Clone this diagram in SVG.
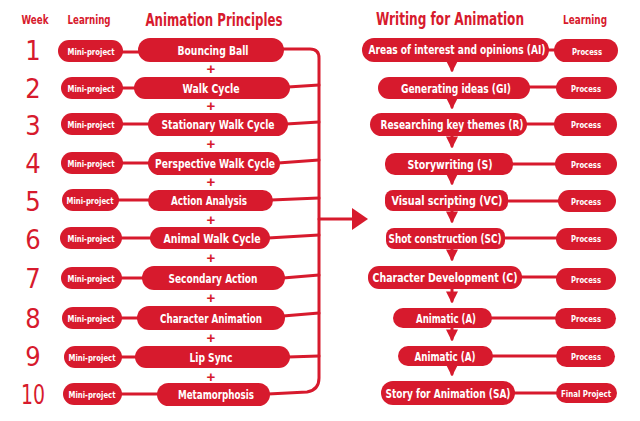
<svg xmlns="http://www.w3.org/2000/svg" width="640" height="421" viewBox="0 0 640 421">
<defs>
<style>
.bg{fill:#ffffff}
.pill{fill:#d71a2d}
.ln{stroke:#d71a2d;stroke-width:3;fill:none;stroke-linecap:round;stroke-linejoin:round}
.t{fill:#ffffff;font-family:"DejaVu Sans Condensed","Liberation Sans",sans-serif;font-weight:bold;text-anchor:middle;dominant-baseline:central}
.big{font-size:13px}
.sm{font-size:9.5px}
.hd{fill:#d71a2d;font-family:"DejaVu Sans Condensed","Liberation Sans",sans-serif;font-weight:bold;text-anchor:middle;dominant-baseline:central}
.wk{fill:#d71a2d;font-family:"DejaVu Sans Condensed","Liberation Sans",sans-serif;font-size:27px;text-anchor:middle;dominant-baseline:central}
.plus{fill:#d71a2d;font-family:"Liberation Sans","DejaVu Sans",sans-serif;font-weight:bold;font-size:15px;text-anchor:middle;dominant-baseline:central}
</style>
<marker id="ah" viewBox="0 0 10 10" refX="8" refY="5" markerWidth="4" markerHeight="4" orient="auto" markerUnits="strokeWidth"><path d="M0,0 L10,5 L0,10 z" fill="#d71a2d"/></marker>
</defs>
<rect class="bg" x="0" y="0" width="640" height="421"/>

<g id="headers">
<text class="hd" x="35" y="20" font-size="11.5" textLength="27" lengthAdjust="spacingAndGlyphs">Week</text>
<text class="hd" x="89" y="20" font-size="11.5" textLength="43" lengthAdjust="spacingAndGlyphs">Learning</text>
<text class="hd" x="214" y="20" font-size="17" textLength="137" lengthAdjust="spacingAndGlyphs">Animation Principles</text>
<text class="hd" x="450" y="19" font-size="17" textLength="148" lengthAdjust="spacingAndGlyphs">Writing for Animation</text>
<text class="hd" x="585" y="20" font-size="11.5" textLength="44" lengthAdjust="spacingAndGlyphs">Learning</text>
</g>

<g id="weeks">
<text class="wk" x="33" y="50">1</text>
<text class="wk" x="33" y="88">2</text>
<text class="wk" x="33" y="125">3</text>
<text class="wk" x="33" y="163">4</text>
<text class="wk" x="33" y="201">5</text>
<text class="wk" x="33" y="239">6</text>
<text class="wk" x="33" y="278">7</text>
<text class="wk" x="33" y="318">8</text>
<text class="wk" x="33" y="356">9</text>
<text class="wk" x="33" y="394" textLength="24" lengthAdjust="spacingAndGlyphs">10</text>
</g>

<g id="connectors">
<path class="ln" d="M122,52 L140,52"/>
<path class="ln" d="M122,88 L136,88"/>
<path class="ln" d="M122,124 L150,124"/>
<path class="ln" d="M122,163 L150,163"/>
<path class="ln" d="M118,200 L150,200"/>
<path class="ln" d="M122,238 L152,238"/>
<path class="ln" d="M122,278 L144,278"/>
<path class="ln" d="M122,318 L139,318"/>
<path class="ln" d="M122,357 L137,357"/>
<path class="ln" d="M122,394 L159,394"/>
<path class="ln" d="M282,49 L310,49 Q319,49 319,58 L319,378 Q319,390 307,392 L268,394"/>
<path class="ln" d="M288,87 L319,85"/>
<path class="ln" d="M286,124 L319,122"/>
<path class="ln" d="M278,163 L319,160"/>
<path class="ln" d="M271,200 L319,198"/>
<path class="ln" d="M268,238 L319,235"/>
<path class="ln" d="M283,278 L319,275"/>
<path class="ln" d="M283,316 L319,313"/>
<path class="ln" d="M288,357 L319,356"/>
<path class="ln" d="M319,219 L354,219"/>
<path d="M352,208 L368,219 L352,230 z" fill="#d71a2d"/>
<path class="ln" d="M546,50 L558,50"/>
<path class="ln" d="M528,87 L558,87"/>
<path class="ln" d="M524,124 L558,124"/>
<path class="ln" d="M510,164 L560,164"/>
<path class="ln" d="M506,201 L560,201"/>
<path class="ln" d="M503,238 L560,238"/>
<path class="ln" d="M520,277 L560,277"/>
<path class="ln" d="M490,318 L558,318"/>
<path class="ln" d="M490,356 L558,356"/>
<path class="ln" d="M513,393 L558,393"/>
<path class="ln" d="M452,62 L452,70" marker-end="url(#ah)"/>
<path class="ln" d="M452,98 L452,107" marker-end="url(#ah)"/>
<path class="ln" d="M452,136 L452,146" marker-end="url(#ah)"/>
<path class="ln" d="M452,175 L452,183" marker-end="url(#ah)"/>
<path class="ln" d="M452,211 L452,221" marker-end="url(#ah)"/>
<path class="ln" d="M452,248 L452,259" marker-end="url(#ah)"/>
<path class="ln" d="M452,289 L452,301" marker-end="url(#ah)"/>
<path class="ln" d="M452,327 L452,339" marker-end="url(#ah)"/>
<path class="ln" d="M452,366 L452,374" marker-end="url(#ah)"/>
</g>

<g id="plus-signs">
<text class="plus" x="211" y="68">+</text>
<text class="plus" x="211" y="105">+</text>
<text class="plus" x="211" y="143">+</text>
<text class="plus" x="211" y="181">+</text>
<text class="plus" x="211" y="219">+</text>
<text class="plus" x="211" y="257">+</text>
<text class="plus" x="211" y="297">+</text>
<text class="plus" x="211" y="337">+</text>
<text class="plus" x="211" y="376">+</text>
</g>

<g id="mp1"><rect class="pill" x="58" y="40" width="65" height="22" rx="11"/><text class="t sm" x="91" y="51" textLength="47" lengthAdjust="spacingAndGlyphs">Mini-project</text></g>
<g id="mp2"><rect class="pill" x="61" y="77" width="62" height="22" rx="11"/><text class="t sm" x="91" y="88" textLength="47" lengthAdjust="spacingAndGlyphs">Mini-project</text></g>
<g id="mp3"><rect class="pill" x="61" y="113" width="62" height="22" rx="11"/><text class="t sm" x="91" y="124" textLength="47" lengthAdjust="spacingAndGlyphs">Mini-project</text></g>
<g id="mp4"><rect class="pill" x="61" y="152" width="62" height="22" rx="11"/><text class="t sm" x="91" y="163" textLength="47" lengthAdjust="spacingAndGlyphs">Mini-project</text></g>
<g id="mp5"><rect class="pill" x="62" y="189" width="57" height="22" rx="11"/><text class="t sm" x="90" y="200" textLength="47" lengthAdjust="spacingAndGlyphs">Mini-project</text></g>
<g id="mp6"><rect class="pill" x="60" y="227" width="62" height="22" rx="11"/><text class="t sm" x="91" y="238" textLength="47" lengthAdjust="spacingAndGlyphs">Mini-project</text></g>
<g id="mp7"><rect class="pill" x="61" y="267" width="61" height="22" rx="11"/><text class="t sm" x="91" y="278" textLength="47" lengthAdjust="spacingAndGlyphs">Mini-project</text></g>
<g id="mp8"><rect class="pill" x="62" y="307" width="60" height="22" rx="11"/><text class="t sm" x="91" y="318" textLength="47" lengthAdjust="spacingAndGlyphs">Mini-project</text></g>
<g id="mp9"><rect class="pill" x="64" y="346" width="58" height="22" rx="11"/><text class="t sm" x="92" y="357" textLength="47" lengthAdjust="spacingAndGlyphs">Mini-project</text></g>
<g id="mp10"><rect class="pill" x="63" y="383" width="59" height="22" rx="11"/><text class="t sm" x="92" y="394" textLength="47" lengthAdjust="spacingAndGlyphs">Mini-project</text></g>

<g id="ap1"><rect class="pill" x="138" y="38" width="146" height="24" rx="12"/><text class="t big" x="213" y="50" textLength="71" lengthAdjust="spacingAndGlyphs">Bouncing Ball</text></g>
<g id="ap2"><rect class="pill" x="134" y="77" width="156" height="22" rx="11"/><text class="t big" x="211" y="88" textLength="57" lengthAdjust="spacingAndGlyphs">Walk Cycle</text></g>
<g id="ap3"><rect class="pill" x="148" y="113" width="140" height="23" rx="11.5"/><text class="t big" x="218" y="124" textLength="113" lengthAdjust="spacingAndGlyphs">Stationary Walk Cycle</text></g>
<g id="ap4"><rect class="pill" x="148" y="152" width="132" height="23" rx="11.5"/><text class="t big" x="215" y="163" textLength="120" lengthAdjust="spacingAndGlyphs">Perspective Walk Cycle</text></g>
<g id="ap5"><rect class="pill" x="148" y="190" width="125" height="21" rx="10.5"/><text class="t big" x="209" y="200" textLength="76" lengthAdjust="spacingAndGlyphs">Action Analysis</text></g>
<g id="ap6"><rect class="pill" x="150" y="227" width="120" height="22" rx="11"/><text class="t big" x="212" y="238" textLength="97" lengthAdjust="spacingAndGlyphs">Animal Walk Cycle</text></g>
<g id="ap7"><rect class="pill" x="142" y="266" width="143" height="24" rx="12"/><text class="t big" x="213" y="278" textLength="89" lengthAdjust="spacingAndGlyphs">Secondary Action</text></g>
<g id="ap8"><rect class="pill" x="137" y="306" width="148" height="24" rx="12"/><text class="t big" x="211" y="318" textLength="102" lengthAdjust="spacingAndGlyphs">Character Animation</text></g>
<g id="ap9"><rect class="pill" x="135" y="346" width="155" height="22" rx="11"/><text class="t big" x="211" y="357" textLength="43" lengthAdjust="spacingAndGlyphs">Lip Sync</text></g>
<g id="ap10"><rect class="pill" x="157" y="383" width="113" height="23" rx="11.5"/><text class="t big" x="216" y="394" textLength="76" lengthAdjust="spacingAndGlyphs">Metamorphosis</text></g>

<g id="wa1"><rect class="pill" x="362" y="38" width="187" height="24" rx="12"/><text class="t" x="457" y="50" font-size="11.5" textLength="177" lengthAdjust="spacingAndGlyphs">Areas of interest and opinions (AI)</text></g>
<g id="wa2"><rect class="pill" x="378" y="77" width="152" height="22" rx="11"/><text class="t big" x="456" y="88" textLength="110" lengthAdjust="spacingAndGlyphs">Generating ideas (GI)</text></g>
<g id="wa3"><rect class="pill" x="370" y="113" width="157" height="23" rx="11.5"/><text class="t big" x="452" y="124" textLength="143" lengthAdjust="spacingAndGlyphs">Researching key themes (R)</text></g>
<g id="wa4"><rect class="pill" x="385" y="153" width="128" height="22" rx="10"/><text class="t big" x="450" y="164" textLength="85" lengthAdjust="spacingAndGlyphs">Storywriting (S)</text></g>
<g id="wa5"><rect class="pill" x="385" y="190" width="123" height="21" rx="8"/><text class="t big" x="447" y="200" textLength="111" lengthAdjust="spacingAndGlyphs">Visual scripting (VC)</text></g>
<g id="wa6"><rect class="pill" x="386" y="228" width="119" height="21" rx="8"/><text class="t big" x="445" y="238" textLength="113" lengthAdjust="spacingAndGlyphs">Shot construction (SC)</text></g>
<g id="wa7"><rect class="pill" x="368" y="266" width="154" height="23" rx="11"/><text class="t big" x="445" y="277" textLength="145" lengthAdjust="spacingAndGlyphs">Character Development (C)</text></g>
<g id="wa8"><rect class="pill" x="393" y="308" width="99" height="20" rx="10"/><text class="t big" x="446" y="318" textLength="60" lengthAdjust="spacingAndGlyphs">Animatic (A)</text></g>
<g id="wa9"><rect class="pill" x="398" y="346" width="95" height="20" rx="10"/><text class="t big" x="445" y="356" textLength="61" lengthAdjust="spacingAndGlyphs">Animatic (A)</text></g>
<g id="wa10"><rect class="pill" x="381" y="381" width="134" height="24" rx="12"/><text class="t big" x="448" y="393" textLength="125" lengthAdjust="spacingAndGlyphs">Story for Animation (SA)</text></g>

<g id="pr1"><rect class="pill" x="554" y="39" width="64" height="23" rx="11.5"/><text class="t sm" x="587" y="51" textLength="30" lengthAdjust="spacingAndGlyphs">Process</text></g>
<g id="pr2"><rect class="pill" x="556" y="77" width="61" height="22" rx="11"/><text class="t sm" x="586" y="88" textLength="30" lengthAdjust="spacingAndGlyphs">Process</text></g>
<g id="pr3"><rect class="pill" x="554" y="113" width="63" height="23" rx="11.5"/><text class="t sm" x="586" y="124" textLength="30" lengthAdjust="spacingAndGlyphs">Process</text></g>
<g id="pr4"><rect class="pill" x="555" y="153" width="62" height="22" rx="11"/><text class="t sm" x="586" y="164" textLength="30" lengthAdjust="spacingAndGlyphs">Process</text></g>
<g id="pr5"><rect class="pill" x="558" y="190" width="58" height="22" rx="11"/><text class="t sm" x="586" y="201" textLength="30" lengthAdjust="spacingAndGlyphs">Process</text></g>
<g id="pr6"><rect class="pill" x="556" y="228" width="61" height="22" rx="11"/><text class="t sm" x="586" y="238" textLength="30" lengthAdjust="spacingAndGlyphs">Process</text></g>
<g id="pr7"><rect class="pill" x="556" y="268" width="60" height="22" rx="11"/><text class="t sm" x="586" y="279" textLength="30" lengthAdjust="spacingAndGlyphs">Process</text></g>
<g id="pr8"><rect class="pill" x="555" y="308" width="61" height="21" rx="10.5"/><text class="t sm" x="586" y="318" textLength="30" lengthAdjust="spacingAndGlyphs">Process</text></g>
<g id="pr9"><rect class="pill" x="556" y="346" width="59" height="21" rx="10.5"/><text class="t sm" x="586" y="356" textLength="30" lengthAdjust="spacingAndGlyphs">Process</text></g>
<g id="pr10"><rect class="pill" x="556" y="383" width="61" height="20" rx="10"/><text class="t sm" x="586" y="393" textLength="50" lengthAdjust="spacingAndGlyphs">Final Project</text></g>
</svg>
